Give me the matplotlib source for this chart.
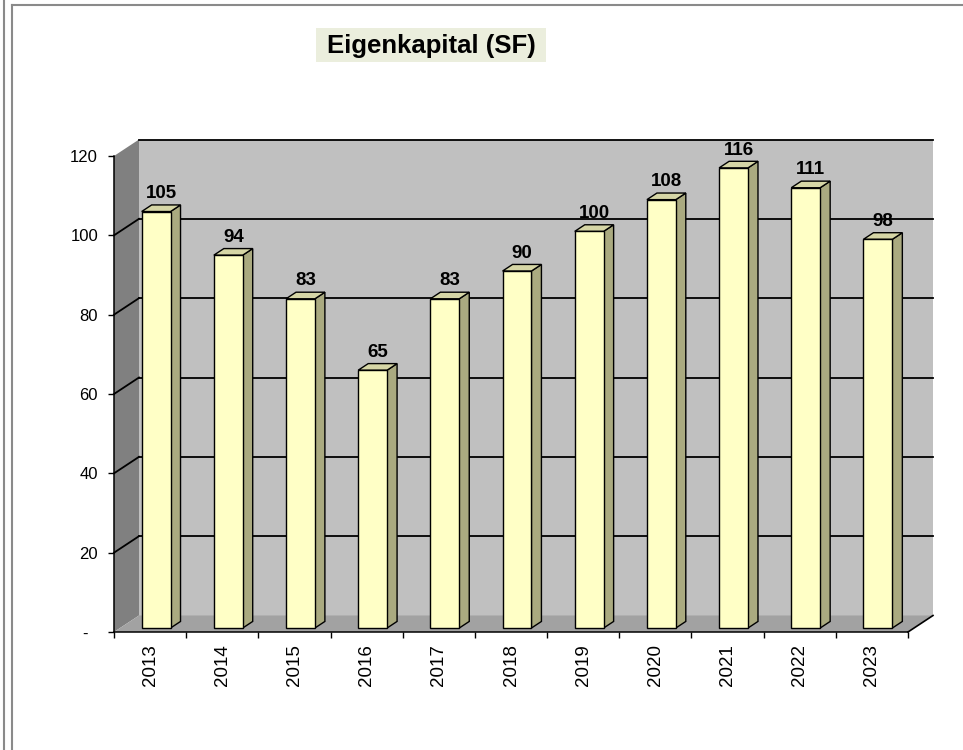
import numpy as np
import matplotlib
matplotlib.use("Agg")
import matplotlib.pyplot as plt
from matplotlib.patches import Polygon, Rectangle
from matplotlib.lines import Line2D

plt.rcParams['font.family'] = ['Liberation Sans', 'DejaVu Sans']

jahre = ["2013", "2014", "2015", "2016", "2017", "2018", "2019", "2020", "2021", "2022", "2023"]
eigenkapital = [105, 94, 83, 65, 83, 90, 100, 108, 116, 111, 98]
y_ticks = [0, 20, 40, 60, 80, 100, 120]

# colours of the excel-like 3d look
WALL_BACK = "#c0c0c0"
WALL_SIDE = "#808080"
FLOOR = "#a2a2a2"
BAR_FRONT = "#ffffc6"
BAR_SIDE = "#aaaa80"
BAR_TOP = "#d6d6a6"

W, H = 963, 750
fig = plt.figure(figsize=(W / 100, H / 100), dpi=100)
ax = fig.add_axes([114 / W, 118 / H, 794 / W, 476 / H])
ax.set_xlim(0, len(jahre))
ax.set_ylim(0, 120)
ax.patch.set_visible(False)

# depth of the chart (in pixels) converted to data units
origin = ax.transData.transform((0, 0))
DX, DY = ax.transData.inverted().transform(origin + np.array([25, 16.5]))
n = len(jahre)

# walls and floor
ax.add_patch(Rectangle((DX, DY), n, 120, facecolor=WALL_BACK, edgecolor="none",
                       clip_on=False, zorder=0))
ax.add_patch(Polygon([(0, 0), (DX, DY), (DX, 120 + DY), (0, 120)], closed=True,
                     facecolor=WALL_SIDE, edgecolor="none", clip_on=False, zorder=0))
ax.add_patch(Polygon([(0, 0), (n, 0), (n + DX, DY), (DX, DY)], closed=True,
                     facecolor=FLOOR, edgecolor="none", clip_on=False, zorder=0.5))

# gridlines on back wall + side wall
for v in y_ticks[1:]:
    ax.plot([DX, n + DX], [v + DY, v + DY], color="black", lw=1.3, clip_on=False, zorder=1)
    if v < 120:
        ax.plot([0, DX], [v, v + DY], color="black", lw=1.3, clip_on=False, zorder=1)
ax.plot([n, n + DX], [0, DY], color="black", lw=1.2, clip_on=False, zorder=1)

# bars
d0, d1 = 0.24, 0.64
bw = 0.40
for i, v in enumerate(eigenkapital):
    x0 = i + 0.5 - bw / 2 + d0 * DX
    x1 = x0 + bw
    y0 = d0 * DY
    top = v + y0
    ox, oy = (d1 - d0) * DX, (d1 - d0) * DY
    ax.add_patch(Polygon([(x1, y0), (x1 + ox, y0 + oy), (x1 + ox, top + oy), (x1, top)],
                         closed=True, facecolor=BAR_SIDE, edgecolor="black", lw=1,
                         clip_on=False, zorder=3))
    ax.add_patch(Polygon([(x0, top), (x1, top), (x1 + ox, top + oy), (x0 + ox, top + oy)],
                         closed=True, facecolor=BAR_TOP, edgecolor="black", lw=1,
                         clip_on=False, zorder=3))
    ax.add_patch(Rectangle((x0, y0), bw, v, facecolor=BAR_FRONT, edgecolor="black",
                           lw=1, clip_on=False, zorder=4))
    ax.annotate(str(v), xy=(i + 0.5 + (d0 + d1) / 2 * DX, top + oy),
                xytext=(0, 2), textcoords="offset points", ha="center", va="bottom",
                fontsize=13.5, fontweight="bold", zorder=5, annotation_clip=False)

# axes
for s in ["top", "right"]:
    ax.spines[s].set_visible(False)
for s in ["left", "bottom"]:
    ax.spines[s].set_color("black")
    ax.spines[s].set_linewidth(1.1)
    ax.spines[s].set_zorder(6)

ax.set_yticks(y_ticks)
ax.set_yticklabels(["-  " if t == 0 else str(t) for t in y_ticks])
ax.set_xticks(np.arange(n + 1))
ax.set_xticklabels([])
ax.set_xticks(np.arange(n) + 0.5, minor=True)
ax.set_xticklabels(jahre, minor=True, rotation=90, fontsize=13.5)
ax.tick_params(axis="x", which="major", length=4.5, width=1, direction="out")
ax.tick_params(axis="x", which="minor", length=0, pad=9)
ax.tick_params(axis="y", length=4.5, width=1, direction="out", labelsize=12, pad=7)

# title with shaded box
fig.add_artist(Rectangle((316 / W, 1 - 62 / H), 230 / W, 34 / H,
                         transform=fig.transFigure, facecolor="#ebeedd", edgecolor="none"))
fig.text(431 / W, 1 - 46 / H, "Eigenkapital (SF)", ha="center", va="center",
         fontsize=18.5, fontweight="bold")

# page frame
fig.add_artist(Line2D([4 / W, 4 / W], [0, 1], color="#8a8a8a", lw=1.5))
fig.add_artist(Line2D([12 / W, 12 / W], [0, 1 - 5 / H], color="#8a8a8a", lw=1.5))
fig.add_artist(Line2D([12 / W, 1], [1 - 5 / H, 1 - 5 / H], color="#8a8a8a", lw=1.5))

fig.savefig("out.png", dpi=100)
